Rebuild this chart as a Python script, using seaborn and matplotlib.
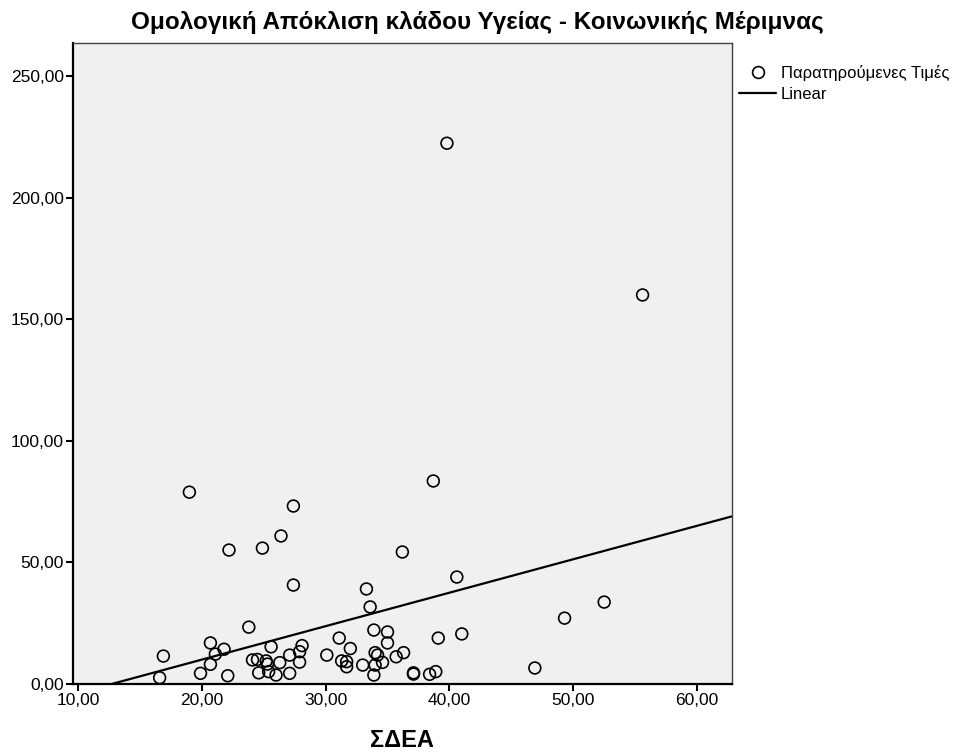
import numpy as np
import pandas as pd
import seaborn as sns
import matplotlib
matplotlib.use('Agg')
from matplotlib import pyplot as plt
from matplotlib.lines import Line2D

# values
sdea = [39.8, 55.6, 19.0, 38.7, 27.4, 26.4, 22.2, 24.9, 36.2, 40.6,
        27.4, 33.3, 52.5, 33.6, 49.3, 23.8, 33.9, 35.0, 41.0, 31.1,
        39.1, 20.7, 35.0, 25.6, 28.1, 21.8, 32.0, 27.9, 16.9, 21.1,
        27.1, 30.1, 34.0, 34.2, 24.1, 24.5, 25.2, 25.3, 26.3, 27.9,
        31.3, 31.7, 31.7, 33.0, 34.0, 20.7, 19.9, 16.6, 22.1, 24.6,
        25.4, 26.0, 27.1, 33.9, 36.3, 35.7, 34.6, 37.1, 37.1, 38.4,
        38.9, 46.9]
apoklisi = [222.4, 160.0, 78.9, 83.5, 73.2, 60.9, 55.1, 55.9, 54.3, 44.0,
            40.7, 39.1, 33.7, 31.7, 27.1, 23.4, 22.2, 21.4, 20.6, 18.9,
            18.9, 16.9, 16.9, 15.3, 15.8, 14.3, 14.6, 13.3, 11.5, 12.3,
            11.9, 11.9, 12.9, 11.9, 9.9, 10.1, 9.5, 8.2, 8.8, 9.0,
            9.5, 9.2, 7.1, 7.8, 7.8, 8.1, 4.4, 2.6, 3.4, 4.6,
            5.1, 3.7, 4.4, 3.7, 12.9, 11.2, 8.9, 4.6, 4.1, 4.0,
            5.1, 6.6]
df = pd.DataFrame({'x': sdea, 'y': apoklisi})

xticks = [10, 20, 30, 40, 50, 60]
yticks = [0, 50, 100, 150, 200, 250]

sns.set_style('white')
plt.rcParams['font.family'] = ['Liberation Sans', 'DejaVu Sans']
plt.rcParams['text.color'] = 'black'
plt.rcParams['xtick.color'] = 'black'
plt.rcParams['ytick.color'] = 'black'

fig = plt.figure(figsize=(9.54, 7.55), dpi=100)
ax = fig.add_axes([0.0765, 0.094, 0.6905, 0.849])
ax.set_facecolor('#f0f0f0')

ax.set_xlim(9.6, 62.8)
ax.set_ylim(0, 263.6)

sns.regplot(data=df, x='x', y='y', scatter=False, ci=None, truncate=False,
            line_kws={'color': 'black', 'lw': 1.6}, ax=ax)
sns.scatterplot(data=df, x='x', y='y', marker='o', s=72, facecolor='none',
                edgecolor='black', linewidth=1.2, ax=ax, zorder=3)
ax.set_xlim(9.6, 62.8)
ax.set_ylim(0, 263.6)

ax.set_xticks(xticks)
ax.set_yticks(yticks)
ax.set_xticklabels([f'{v:.2f}'.replace('.', ',') for v in xticks], fontsize=12.5)
ax.set_yticklabels([f'{v:.2f}'.replace('.', ',') for v in yticks], fontsize=12.5)
ax.tick_params(axis='both', direction='out', length=5, width=1.5, color='black',
               bottom=True, left=True, pad=1.5)

for side in ['left', 'bottom']:
    ax.spines[side].set_color('black')
    ax.spines[side].set_linewidth(1.6)
for side in ['top', 'right']:
    ax.spines[side].set_color('#404040')
    ax.spines[side].set_linewidth(1.0)

ax.set_xlabel('')
ax.set_ylabel('')
ax.text(0.5, -0.088, 'ΣΔΕΑ', transform=ax.transAxes, ha='center', va='center',
        fontsize=17, fontweight='bold')
fig.text(0.5, 0.97, 'Ομολογική Απόκλιση κλάδου Υγείας - Κοινωνικής Μέριμνας',
         ha='center', va='center', fontsize=17.5, fontweight='bold')

handles = [Line2D([], [], marker='o', ls='none', mfc='none', mec='black',
                  ms=8.5, mew=1.2),
           Line2D([], [], color='black', lw=1.6)]
fig.legend(handles, ['Παρατηρούμενες Τιμές', 'Linear'], loc='upper left',
           bbox_to_anchor=(0.775, 0.914), frameon=False, fontsize=12,
           handlelength=2.2, handletextpad=0.3, labelspacing=0.35,
           borderpad=0, borderaxespad=0)

fig.savefig('out.png', dpi=100)
